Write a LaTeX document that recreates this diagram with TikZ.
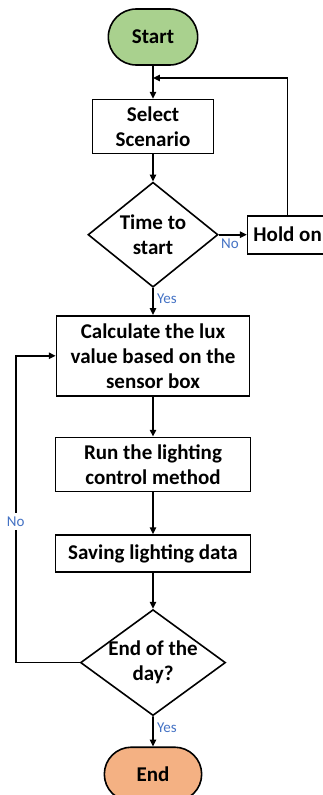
\documentclass[tikz,border=0pt]{standalone}
\usepackage{fontspec}
\setmainfont{Carlito}
\usepackage{xcolor}
\usepackage{tikz}
\usetikzlibrary{arrows.meta,positioning,shapes.geometric,shapes.misc}
\definecolor{startgreen}{HTML}{A9D18E}
\definecolor{endorange}{HTML}{F4B183}
\definecolor{lblblue}{HTML}{4472C4}

\begin{document}
\begin{tikzpicture}[
    x=1pt, y=1pt,
    node distance=27pt and 29pt,
    txt/.style={font=\bfseries\fontsize{21}{25}\selectfont},
    terminal/.style={txt, draw, rounded rectangle, line width=1.6pt, minimum width=96pt, minimum height=56pt},
    box/.style={txt, draw, align=center, line width=1.6pt, inner sep=2pt},
    decision/.style={txt, draw, diamond, align=center, line width=1.6pt, inner sep=-6pt},
    arrow/.style={-{Triangle[length=2.4mm,width=2.2mm]}, line width=1.6pt},
    lbl/.style={font=\fontsize{15}{17}\selectfont, text=lblblue}
  ]
    \useasboundingbox (0,0) rectangle (322,-795);
    \node[terminal, fill=startgreen] (start) at (153,-37) {Start};
    \node[box, below=33pt of start, minimum width=121pt, minimum height=54pt] (select) {Select\\Scenario};
    \node[decision, below=of select, minimum width=130pt, minimum height=105pt, aspect=1.25] (time) {Time to\\start};
    \node[box, right=of time, minimum width=80pt, minimum height=38pt, xshift=-1pt] (hold) {Hold on};
    \node[box, below=of time, minimum width=193pt, minimum height=80pt] (calc) {Calculate the lux\\value based on the\\sensor box};
    \node[box, below=40pt of calc, minimum width=195pt, minimum height=54pt] (run) {Run the lighting\\control method};
    \node[box, below=42pt of run, minimum width=195pt, minimum height=37pt] (save) {Saving lighting data};
    \node[decision, below=36pt of save, minimum width=145pt, minimum height=106pt, aspect=1.37] (endday) {End of the\\day?};
    \node[terminal, fill=endorange, below=30pt of endday, minimum width=104pt, minimum height=54pt] (stop) {End};
    \coordinate (join) at (153,-78);

    \draw[arrow] (start) -- (select);
    \draw[arrow] (hold.north) |- (join);
    \draw[arrow] (select) -- (time);
    \draw[arrow] (time) -- node[lbl, below, pos=0.4] {No} (hold);
    \draw[arrow] (time) -- node[lbl, right, pos=0.4] {Yes} (calc);
    \draw[arrow] (calc) -- (run);
    \draw[arrow] (run) -- (save);
    \draw[arrow] (save) -- (endday);
    \draw[arrow] (endday.west) -| node[lbl, fill=white, pos=0.73] {No} ([xshift=-40pt]calc.west) -- (calc.west);
    \draw[arrow] (endday) -- node[lbl, right, pos=0.375] {Yes} (stop);
  \end{tikzpicture}
\end{document}
